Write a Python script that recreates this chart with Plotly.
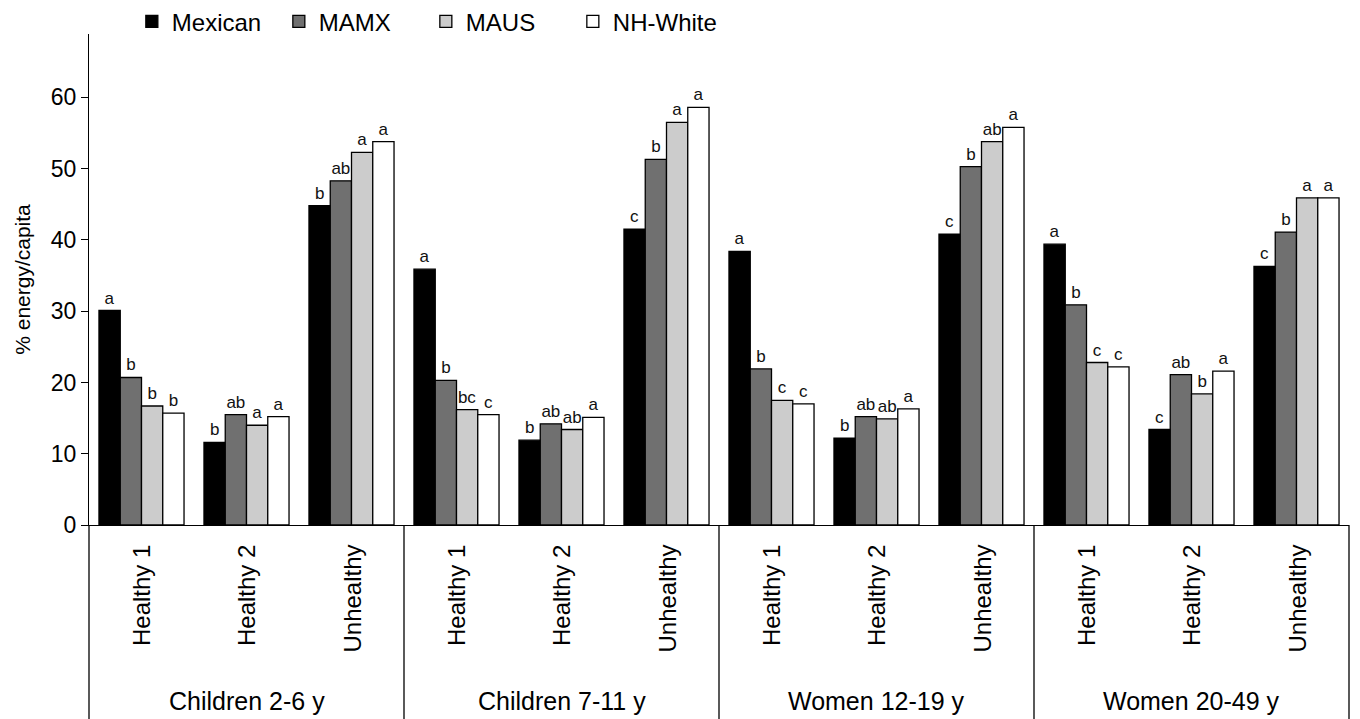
import plotly.graph_objects as go

groups = ["Children 2-6 y", "Children 7-11 y", "Women 12-19 y", "Women 20-49 y"]
patterns = ["Healthy 1", "Healthy 2", "Unhealthy"]
series = ["Mexican", "MAMX", "MAUS", "NH-White"]
colors = ["#000000", "#707070", "#cccccc", "#ffffff"]

# values ordered by group then pattern (12 categories)
mexican = [30.1, 11.6, 44.8, 35.9, 11.9, 41.5, 38.4, 12.2, 40.8, 39.4, 13.4, 36.3]
mamx    = [20.7, 15.5, 48.3, 20.3, 14.2, 51.3, 21.9, 15.2, 50.3, 30.9, 21.1, 41.1]
maus    = [16.7, 14.0, 52.3, 16.2, 13.4, 56.5, 17.5, 14.9, 53.8, 22.8, 18.4, 45.9]
nhwhite = [15.7, 15.2, 53.8, 15.5, 15.1, 58.6, 17.0, 16.3, 55.8, 22.2, 21.6, 45.9]

lab_mexican = ["a", "b", "b", "a", "b", "c", "a", "b", "c", "a", "c", "c"]
lab_mamx    = ["b", "ab", "ab", "b", "ab", "b", "b", "ab", "b", "b", "ab", "b"]
lab_maus    = ["b", "a", "a", "bc", "ab", "a", "c", "ab", "ab", "c", "b", "a"]
lab_nhwhite = ["b", "a", "a", "c", "a", "a", "c", "a", "a", "c", "a", "a"]

values = [mexican, mamx, maus, nhwhite]
labels = [lab_mexican, lab_mamx, lab_maus, lab_nhwhite]

xpos = list(range(len(groups) * len(patterns)))
FONT = "Liberation Sans, Arial, sans-serif"

fig = go.Figure()
for name, col, vals, labs in zip(series, colors, values, labels):
    fig.add_trace(go.Bar(
        x=xpos, y=vals, name=name, text=labs,
        textposition="outside", constraintext="none", cliponaxis=False,
        textfont=dict(size=17, color="#111", family=FONT),
        marker=dict(color=col, line=dict(color="#000", width=1.3)),
    ))

annotations = []
for gi, g in enumerate(groups):
    for pi, p in enumerate(patterns):
        annotations.append(dict(
            x=gi * len(patterns) + pi, y=0, xref="x", yref="paper",
            text=p, textangle=-90, showarrow=False, yanchor="top", yshift=-18,
            font=dict(size=24, color="#000", family=FONT)))
    annotations.append(dict(
        x=gi * len(patterns) + 1, y=0, xref="x", yref="paper",
        text=g, showarrow=False, yanchor="middle", yshift=-176,
        font=dict(size=25, color="#000", family=FONT)))

shapes = []
for k in range(len(groups) + 1):
    shapes.append(dict(type="line", xref="paper", yref="paper",
                       x0=k / len(groups), x1=k / len(groups), y0=0, y1=-0.45,
                       line=dict(color="#000", width=1.3)))

# page body adds an 8 px offset, so the figure is sized 1352x711
fig.update_layout(
    width=1352, height=711,
    margin=dict(l=81, r=11, t=26, b=194, autoexpand=False),
    plot_bgcolor="white", paper_bgcolor="white",
    barmode="group", bargap=0.19, bargroupgap=0,
    font=dict(family=FONT, color="#000"),
    showlegend=True,
    legend=dict(orientation="h", x=0.034, y=1.025, xanchor="left", yanchor="middle",
                font=dict(size=24, family=FONT), traceorder="normal",
                entrywidth=102, entrywidthmode="pixels", itemwidth=30),
    xaxis=dict(range=[-0.5, 11.5], showticklabels=False, ticks="", showgrid=False,
               showline=True, linecolor="#000", linewidth=1.3, zeroline=False),
    yaxis=dict(range=[0, 68.9], tickvals=[0, 10, 20, 30, 40, 50, 60],
               ticks="outside", ticklen=7, tickcolor="#000", tickwidth=1.3,
               showline=True, linecolor="#000", linewidth=1.3, showgrid=False,
               zeroline=False, tickfont=dict(size=23, family=FONT),
               title=dict(text="% energy/capita", font=dict(size=21, family=FONT), standoff=14)),
    annotations=annotations, shapes=shapes,
)

fig.write_html("out.html")
